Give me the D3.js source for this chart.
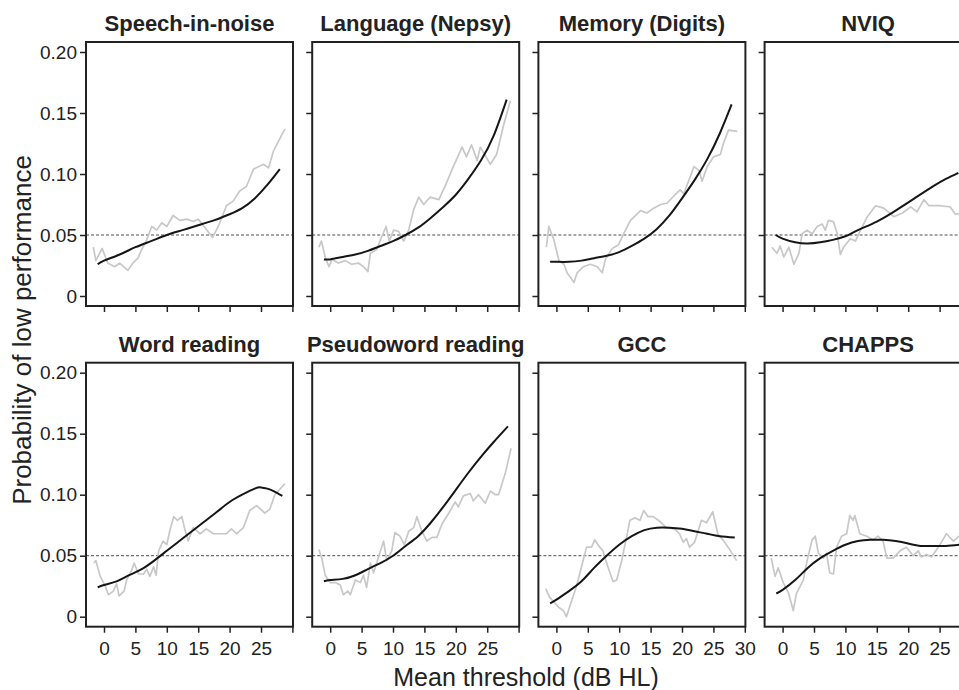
<!DOCTYPE html>
<html>
<head>
<meta charset="utf-8">
<script src="https://cdn.jsdelivr.net/npm/d3@7"></script>
<style>
  body { margin: 0; background: #fff; }
  svg { font-family: "Liberation Sans", Arial, sans-serif; }
</style>
</head>
<body>
<div class="chart"></div>
<script>
// Panel titles, in reading order
const titles = ['Speech-in-noise', 'Language (Nepsy)', 'Memory (Digits)', 'NVIQ',
  'Word reading', 'Pseudoword reading', 'GCC', 'CHAPPS'];

const xTicks = [0, 5, 10, 15, 20, 25, 30];
const yTicks = [0, 0.05, 0.10, 0.15, 0.20];
const refLevel = 0.05;

// fitted curves [threshold, probability]
const fitSpeech = [[-1,.026],[0,.029],[2.5,.034],[5,.040],[7.5,.045],[10,.050],[12.5,.054],[15,.058],[17.5,.062],[20,.067],[22,.072],[24,.080],[26,.091],[28,.104]];
const fitLanguage = [[-1,.030],[0,.030],[2,.032],[4,.034],[6,.037],[8,.041],[10,.045],[12,.050],[14,.056],[16,.064],[18,.073],[20,.083],[22,.096],[24,.111],[26,.131],[28.1,.161]];
const fitMemory = [[-1,.028],[0,.028],[2,.028],[4,.029],[6,.031],[8,.033],[10,.036],[12,.041],[14,.047],[16,.055],[18,.066],[20,.080],[22,.095],[24,.112],[26,.133],[27.9,.157]];
const fitNviq = [[-1.1,.050],[0,.047],[2,.044],[4,.043],[6,.044],[8,.046],[10,.049],[12,.054],[15,.061],[18,.070],[21,.080],[24,.090],[26,.096],[28,.101]];
const fitWord = [[-1,.024],[0,.026],[2,.029],[4,.034],[6,.039],[8,.046],[10,.054],[12,.062],[14,.070],[16,.078],[18,.086],[20,.094],[22,.100],[24,.105],[25,.106],[26,.105],[27,.103],[28.4,.099]];
const fitPseudo = [[-1,.029],[0,.030],[2,.031],[4,.034],[6,.039],[8,.044],[10,.050],[12,.058],[14,.066],[16,.077],[18,.090],[20,.104],[22,.118],[24,.131],[26,.143],[28.3,.156]];
const fitGcc = [[-1,.011],[0,.014],[2,.021],[4,.029],[6,.040],[8,.050],[10,.059],[12,.066],[14,.071],[16,.073],[18,.073],[20,.072],[22,.070],[24,.068],[26,.066],[28.4,.065]];
const fitChapps = [[-1,.019],[0,.022],[2,.030],[4,.040],[6,.048],[8,.054],[10,.059],[12,.062],[14,.063],[16,.063],[18,.062],[20,.060],[22,.058],[24,.058],[26,.058],[28.2,.059]];

// observed (running) proportions
const rawSpeech = [[-1.7,.040],[-1.3,.029],[-0.3,.039],[0.6,.027],[1.7,.024],[2.5,.027],[3.8,.021],[4.6,.027],[5.4,.031],[6.0,.038],[6.8,.046],[7.6,.057],[8.4,.054],[9.2,.060],[10.0,.057],[11.0,.066],[12.1,.062],[13.2,.063],[14.2,.061],[15.0,.063],[16.1,.056],[17.3,.048],[18.2,.057],[19.5,.074],[20.6,.078],[21.6,.086],[22.7,.090],[23.8,.104],[25.4,.108],[26.2,.105],[27.0,.119],[28.8,.137]];
const rawLanguage = [[-1.8,.040],[-1.4,.045],[-0.8,.032],[-0.2,.024],[0.3,.030],[1.3,.027],[2.4,.029],[3.4,.026],[4.5,.027],[5.3,.024],[6.0,.020],[6.4,.035],[7.4,.038],[8.0,.046],[8.9,.057],[9.4,.045],[10.1,.054],[10.9,.053],[11.7,.045],[12.5,.054],[13.3,.071],[14.1,.081],[14.9,.075],[15.9,.081],[17.3,.079],[18.3,.090],[19.6,.106],[21.0,.122],[21.7,.114],[22.5,.124],[23.4,.111],[23.9,.122],[25.5,.108],[26.5,.116],[27.6,.140],[28.7,.160]];
const rawMemory = [[-1.6,.040],[-1.2,.057],[-0.4,.046],[0.4,.029],[1.2,.026],[1.7,.019],[2.8,.011],[3.3,.019],[4.3,.024],[5.4,.026],[6.5,.024],[7.3,.019],[7.8,.030],[8.9,.039],[9.9,.042],[10.7,.051],[11.8,.062],[13.4,.070],[14.4,.068],[15.5,.072],[16.6,.075],[17.6,.076],[18.7,.082],[19.7,.087],[20.3,.084],[21.1,.095],[21.9,.106],[22.7,.103],[23.2,.094],[24.0,.106],[25.0,.114],[26.1,.116],[26.6,.125],[27.4,.136],[28.8,.135]];
const rawNviq = [[-1.7,.040],[-0.9,.035],[-0.4,.041],[0.2,.032],[1.0,.040],[1.8,.026],[2.6,.035],[3.1,.051],[3.9,.054],[4.7,.051],[5.5,.057],[6.3,.059],[6.8,.054],[7.3,.062],[8.1,.061],[8.7,.051],[9.2,.034],[9.7,.040],[10.8,.047],[11.6,.045],[12.4,.054],[13.5,.065],[14.8,.074],[16.1,.072],[17.7,.065],[19.1,.068],[20.4,.073],[21.4,.069],[22.5,.079],[23.3,.074],[25.1,.074],[26.7,.073],[27.5,.067],[28.8,.068]];
const rawWord = [[-1.6,.044],[-1.3,.046],[-0.6,.033],[0.2,.025],[0.7,.018],[1.5,.021],[2.0,.027],[2.4,.017],[3.2,.021],[3.6,.030],[4.4,.038],[4.8,.044],[5.5,.035],[6.3,.035],[6.8,.039],[7.3,.033],[7.9,.041],[8.3,.034],[8.7,.054],[9.4,.062],[10.0,.059],[10.5,.071],[11.1,.082],[11.7,.079],[12.4,.082],[12.9,.071],[13.4,.062],[14.2,.073],[15.3,.068],[16.3,.072],[17.4,.068],[19.5,.068],[20.3,.072],[21.1,.068],[22.2,.073],[23.2,.087],[24.3,.091],[25.6,.085],[26.4,.088],[27.2,.100],[28.8,.109]];
const rawPseudo = [[-1.8,.055],[-1.3,.047],[-0.8,.034],[0,.028],[0.8,.028],[1.6,.026],[2.1,.018],[2.8,.021],[3.2,.018],[4.0,.030],[4.8,.028],[5.3,.034],[5.8,.024],[6.4,.044],[6.9,.036],[7.7,.049],[8.5,.062],[9.0,.046],[9.8,.054],[10.3,.069],[11.1,.066],[11.8,.059],[12.5,.070],[13.3,.073],[13.8,.082],[14.6,.070],[15.4,.062],[16.2,.065],[17.0,.065],[17.8,.076],[18.9,.085],[19.9,.094],[20.4,.090],[21.2,.099],[22.3,.101],[22.8,.095],[23.6,.100],[24.7,.093],[25.5,.103],[26.3,.100],[26.8,.100],[27.9,.118],[28.8,.138]];
const rawGcc = [[-1.7,.023],[-1.1,.016],[0.3,.008],[1.1,.005],[1.6,.000],[2.1,.008],[3.2,.025],[4.0,.041],[4.8,.057],[5.6,.057],[6.1,.063],[6.9,.057],[7.4,.054],[8.2,.041],[9.0,.029],[9.6,.030],[10.4,.046],[11.4,.071],[11.7,.079],[12.5,.081],[13.3,.079],[13.9,.087],[14.6,.082],[15.4,.082],[16.5,.078],[17.5,.073],[18.8,.072],[19.6,.068],[20.2,.061],[20.7,.064],[21.2,.057],[22.0,.061],[23.1,.079],[23.9,.077],[24.9,.086],[25.7,.068],[26.5,.063],[27.6,.055],[28.7,.046]];
const rawChapps = [[-1.8,.048],[-1.2,.033],[-0.7,.040],[0.1,.028],[0.9,.020],[1.7,.005],[2.2,.019],[2.8,.025],[3.3,.030],[3.9,.046],[4.7,.063],[5.2,.066],[5.7,.052],[6.5,.048],[7.0,.052],[7.5,.036],[8.1,.035],[8.6,.057],[9.4,.066],[10.2,.068],[10.7,.083],[11.2,.079],[11.5,.083],[12.3,.068],[13.4,.066],[14.4,.063],[15.2,.066],[16.0,.062],[16.6,.048],[17.6,.048],[18.7,.054],[19.7,.057],[20.8,.050],[21.6,.054],[22.1,.049],[22.9,.051],[23.7,.049],[24.8,.057],[26.1,.068],[27.2,.062],[28.1,.066],[28.8,.068]];

const fits = [fitSpeech, fitLanguage, fitMemory, fitNviq, fitWord, fitPseudo, fitGcc, fitChapps];
const raws = [rawSpeech, rawLanguage, rawMemory, rawNviq, rawWord, rawPseudo, rawGcc, rawChapps];

// layout
const W = 959, H = 690;
const panelW = 207, panelH = 264;
const left0 = 86, colStep = 226.2;
const top0 = 42, rowStep = 320.7;

const svg = d3.select('.chart')
  .append('svg')
  .attr('width', W)
  .attr('height', H);

const x = d3.scaleLinear().domain([0, 30]).range([18, 206.4]);
const y = d3.scaleLinear().domain([0, 0.2]).range([254, 10]);

const fitLine = d3.line()
  .x(d => x(d[0]))
  .y(d => y(d[1]))
  .curve(d3.curveNatural);

const rawLine = d3.line()
  .x(d => x(d[0]))
  .y(d => y(d[1]));

titles.forEach(function(title, i) {
  const col = i % 4, row = Math.floor(i / 4);
  const g = svg.append('g')
    .attr('transform', `translate(${left0 + col * colStep},${top0 + row * rowStep})`);

  // title
  g.append('text')
    .attr('x', panelW / 2)
    .attr('y', -11)
    .attr('text-anchor', 'middle')
    .style('font-size', '22px')
    .style('font-weight', 'bold')
    .attr('fill', '#222')
    .text(title);

  // reference line at 0.05
  g.append('line')
    .attr('x1', 0).attr('x2', panelW)
    .attr('y1', y(refLevel)).attr('y2', y(refLevel))
    .attr('stroke', '#222')
    .attr('stroke-width', 0.8)
    .attr('stroke-dasharray', '3,2');

  // observed proportions
  g.append('path')
    .datum(raws[i])
    .attr('d', rawLine)
    .attr('fill', 'none')
    .attr('stroke', '#c8c8c8')
    .attr('stroke-width', 1.7)
    .attr('stroke-linejoin', 'round');

  // fitted curve
  g.append('path')
    .datum(fits[i])
    .attr('d', fitLine)
    .attr('fill', 'none')
    .attr('stroke', '#161616')
    .attr('stroke-width', 2);

  // y axis
  const yAxis = d3.axisLeft(y)
    .tickValues(yTicks)
    .tickSize(6)
    .tickPadding(3)
    .tickFormat(col === 0 ? (d => d === 0 ? '0' : d3.format('.2f')(d)) : '');
  const ya = g.append('g').call(yAxis);

  // x axis
  const xAxis = d3.axisBottom(x)
    .tickValues(xTicks)
    .tickSize(6)
    .tickPadding(9)
    .tickFormat(row === 1 ? (d => (d === 30 && title !== 'GCC') ? '' : d) : '');
  const xa = g.append('g')
    .attr('transform', `translate(0,${panelH})`)
    .call(xAxis);

  [ya, xa].forEach(function(a) {
    a.select('.domain').remove();
    a.selectAll('.tick line').attr('stroke', '#222').attr('stroke-width', 1.5);
    a.selectAll('.tick text')
      .attr('fill', '#222')
      .style('font-size', '19px')
      .style('font-family', '"Liberation Sans", Arial, sans-serif');
  });

  // panel box
  g.append('rect')
    .attr('width', panelW)
    .attr('height', panelH)
    .attr('fill', 'none')
    .attr('stroke', '#222')
    .attr('stroke-width', 2);
});

// axis titles
svg.append('text')
  .attr('x', 526)
  .attr('y', 686)
  .attr('text-anchor', 'middle')
  .style('font-size', '25px')
  .attr('fill', '#222')
  .text('Mean threshold (dB HL)');

svg.append('text')
  .attr('transform', 'translate(31,330) rotate(-90)')
  .attr('text-anchor', 'middle')
  .style('font-size', '26px')
  .attr('fill', '#222')
  .text('Probability of low performance');
</script>
</body>
</html>
